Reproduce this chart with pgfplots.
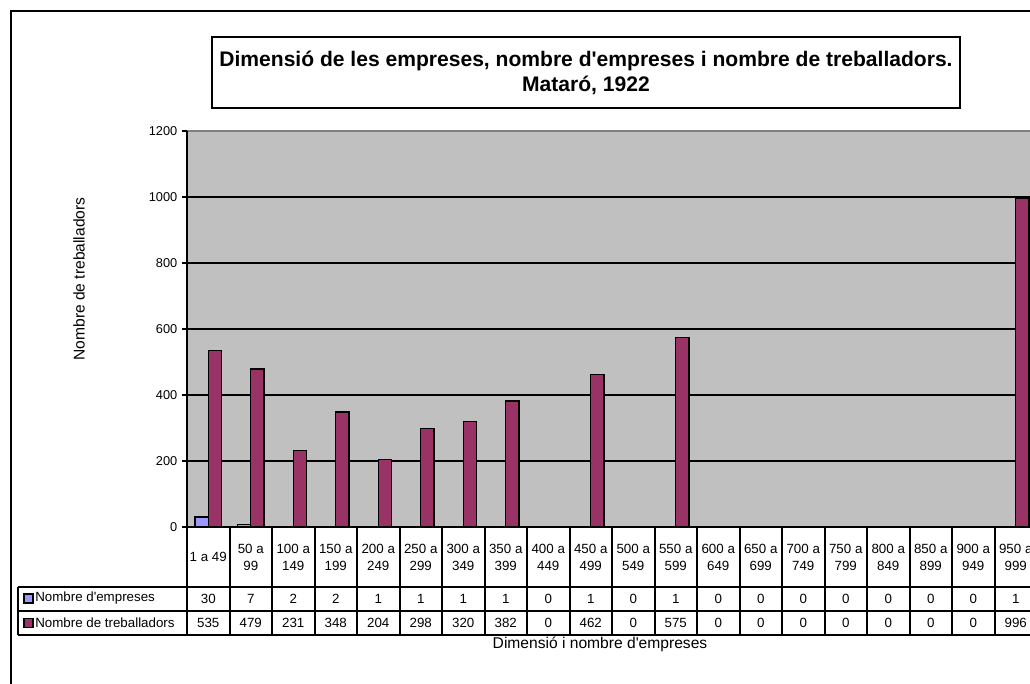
\documentclass[border=0pt]{standalone}
\usepackage{fontspec}
\setmainfont{Liberation Sans}
\usepackage{pgfplots}
\usepackage{pgfplotstable}
\pgfplotsset{compat=1.18}
\definecolor{plotgray}{HTML}{C0C0C0}
\definecolor{serA}{HTML}{9999FF}
\definecolor{serB}{HTML}{993366}
\definecolor{bordergray}{HTML}{808080}
\newcommand{\q}{\textquotesingle}
\pgfplotstableread{
i emp treb
0 30 535
1 7 479
2 2 231
3 2 348
4 1 204
5 1 298
6 1 320
7 1 382
8 0 0
9 1 462
10 0 0
11 1 575
12 0 0
13 0 0
14 0 0
15 0 0
16 0 0
17 0 0
18 0 0
19 1 996
}\data
\begin{document}
\begin{tikzpicture}
\path[use as bounding box] (0pt,0pt) rectangle (772.5pt,512.25pt);
\clip (0pt,0pt) rectangle (772.5pt,512.25pt);
\fill[white] (0pt,0pt) rectangle (772.5pt,512.25pt);
\begin{axis}[
  at={(140.25pt,117pt)}, anchor=south west,
  scale only axis, width=637.5pt, height=297pt,
  xmin=-0.5, xmax=19.5, ymin=0, ymax=1200,
  ytick={0,200,...,1200}, xtick=\empty,
  axis background/.style={fill=plotgray},
  axis line style={draw=none},
  ymajorgrids, grid style={black, line width=1.5pt},
  tick align=outside, major tick length=3.75pt,
  tick style={black, line width=1.1pt},
  yticklabel style={font=\fontsize{9.6}{11}\selectfont},
  /pgf/number format/assume math mode=true,
  /pgf/number format/1000 sep={},
  ybar=0pt, bar width=0.31,
]
\addplot[fill=serA, draw=black, line width=1pt] table[x=i, y=emp] {\data};
\addplot[fill=serB, draw=black, line width=1pt] table[x=i, y=treb] {\data};
\end{axis}
\begin{scope}[x=0.75pt, y=-0.75pt, shift={(0pt,512.25pt)}]
  % plot area borders
  \draw[bordergray, line width=1.6pt] (187,131) -- (1045,131);
  \draw[black, line width=1.6pt] (187,131) -- (187,527);
  % outer frame
  \draw[line width=1.5pt] (11,700) -- (11,11) -- (1045,11);
  % title
  \draw[line width=1.5pt, fill=white] (212,37) rectangle (960,108);
  \node[align=center, font=\fontsize{15.8}{19}\selectfont\bfseries] at (586,73)
    {Dimensió de les empreses, nombre d\q empreses i nombre de treballadors.\\Mataró, 1922};
  % data table
  \foreach \k in {0,...,20} \draw[line width=1.5pt] ({187+42.5*\k},527) -- ({187+42.5*\k},635);
  \draw[line width=1.6pt] (187,527) -- (1045,527);
  \draw[line width=1.5pt] (18,586.5) -- (1045,586.5);
  \draw[line width=1.5pt] (18,610.5) -- (1045,610.5);
  \draw[line width=1.5pt] (18,635) -- (1045,635);
  \draw[line width=1.5pt] (18,586.5) -- (18,635);
  \foreach \lab [count=\k from 0] in {{1 a 49},{50 a\\99},{100 a\\149},{150 a\\199},{200 a\\249},{250 a\\299},{300 a\\349},{350 a\\399},{400 a\\449},{450 a\\499},{500 a\\549},{550 a\\599},{600 a\\649},{650 a\\699},{700 a\\749},{750 a\\799},{800 a\\849},{850 a\\899},{900 a\\949},{950 a\\999}}
    \node[align=center, inner sep=0pt, font=\fontsize{10}{12.75}\selectfont] at ({208.25+42.5*\k},557) {\lab};
  \foreach \v [count=\k from 0] in {30,7,2,2,1,1,1,1,0,1,0,1,0,0,0,0,0,0,0,1}
    \node[inner sep=0pt, font=\fontsize{10}{12}\selectfont] at ({208.25+42.5*\k},598.5) {\v};
  \foreach \v [count=\k from 0] in {535,479,231,348,204,298,320,382,0,462,0,575,0,0,0,0,0,0,0,996}
    \node[inner sep=0pt, font=\fontsize{10}{12}\selectfont] at ({208.25+42.5*\k},623) {\v};
  \draw[fill=serA, line width=1pt] (24,594) rectangle (33,603);
  \node[anchor=west, inner sep=0pt, font=\fontsize{10}{12}\selectfont] at (35,598.5) {Nombre d\q empreses};
  \draw[fill=serB, line width=1pt] (24,618.5) rectangle (33,627.5);
  \node[anchor=west, inner sep=0pt, font=\fontsize{10}{12}\selectfont] at (35,623) {Nombre de treballadors};
  % axis titles
  \node[rotate=90, font=\fontsize{11.7}{14}\selectfont] at (79,279) {Nombre de treballadors};
  \node[font=\fontsize{11.7}{14}\selectfont] at (600,644) {Dimensió i nombre d\q empreses};
\end{scope}
\end{tikzpicture}
\end{document}
